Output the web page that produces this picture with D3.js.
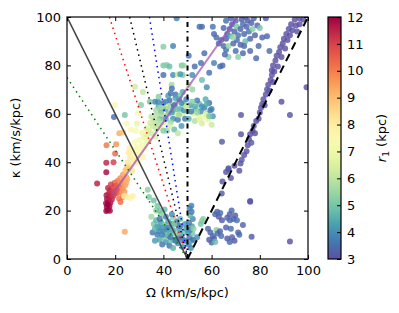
<!DOCTYPE html>
<html><head><meta charset="utf-8">
<script src="https://cdn.jsdelivr.net/npm/d3@7"></script>
<style>body{margin:0;background:#fff} text{font-family:"DejaVu Sans",sans-serif;fill:#000}</style>
</head><body><svg id="c" width="399" height="313"></svg>
<script>
// ---- data ----
const xTicks=[0,20,40,60,80,100];
const yTicks=[0,20,40,60,80,100];
const cbTicks=[3,4,5,6,7,8,9,10,11,12];
// points: [Omega, kappa, r1]
const redCluster=[[16.3,19.8,12],[17.0,20.2,12],[16.5,21.5,11.9],[17.6,21.8,12],[16.2,23,11.8],[17.1,23.6,11.9],[18.0,23.2,11.7],[16.6,24.8,11.8],[17.6,25.3,11.6],[18.6,24.6,11.5],[16.4,26.3,11.7],[17.3,27,11.5],[18.3,26.5,11.4],[19.2,26,11.2],[17.8,28.4,11.3],[18.9,28,11.1],[19.8,27.4,10.9],[20.6,28.6,10.7],[19.3,29.6,10.9],[20.2,30.3,10.6],[17.0,29.3,11.4],[18.2,30.8,11],[16.8,22.5,12],[17.8,19.9,11.9]];
const redIsolated=[[12.5,31.2,11.6],[16.3,35.8,11.9],[16.3,39.8,11.5],[19.3,40,11.1],[20,43.6,10.4],[16.4,47,10.1],[20.4,47.4,9.7],[21.7,52,9.3],[23.2,52.3,8.9],[24,11.3,9.4]];
const orangeCluster=[[19.8,31.5,10.4],[21,32.2,10.1],[22.1,33.4,9.8],[23.2,34.8,9.5],[22.6,31,9.9],[21.5,29.6,10.3],[23.6,32,9.6],[24.6,33.8,9.3],[20.6,27.2,10.5],[22,27.6,10.1],[23.1,29,9.8],[24.1,30.4,9.5],[25,33,9.2],[24.2,36.5,9],[23.1,25.6,9.9],[21.6,25,10.2],[25.1,37.8,8.8],[22.2,23.6,10.3],[23.8,27.8,9.6],[24.6,31.5,9.3],[23.7,26,8.2],[25,25.6,8],[26.4,25.2,7.8],[27.3,26,7.9]];
const yellowCluster=[[24.6,37.5,8.4],[25.2,40,8.2],[26.1,38.6,8.2],[26.2,42,8],[27.1,44,7.8],[27.6,41,8],[28.1,45,7.6],[28.6,39.6,7.9],[29,43,7.8],[29.2,46.2,7.5],[30.5,44.5,7.5],[31.1,47,7.2],[26,46,7.8],[28.1,48.2,7.4],[30.1,49.2,7.2],[31.6,42.2,7.6],[32.1,45.8,7.3],[33.1,48,7],[25.5,44,8],[27,36.5,8.3],[29.8,41,7.7]];
const greenCluster=[[32,50.2,6.8],[33,51.6,6.6],[34,53,6.5],[35,52,6.4],[35.5,55,6.2],[36,57,6],[34.5,56.2,6.3],[33,54,6.5],[37,54,6.1],[38,57,5.9],[37,59.3,5.8],[36.5,50.5,6.5],[34,48.8,6.8],[31.2,52.2,7],[39,60,5.7],[38.5,62.5,5.5],[35,58.8,6],[34,25.6,5.1],[36,24.2,4.9],[37.5,22,5.0],[33.5,28.6,5.3],[38.5,20,4.9]];
const upperLeft=[[19.9,63.6,7.6],[19.5,58.7,3.5],[24,59.5,5],[24.8,56,7.4],[28.2,71.2,6.3],[29,56,6.8],[29.5,60.3,7.3],[30.7,63.6,5.2],[34.4,65,5],[31.5,69,6],[26.5,53.5,7.6],[28.5,53,7.2]];
const midCluster=[[38,63,4.2],[39,61,3.6],[40,64.5,3.5],[41,62,4.5],[42,60,5],[40.5,59,5.8],[43,63,3.8],[44,61.5,4.4],[42.5,65.5,3.4],[45,64,5.2],[45.5,60,6.3],[44,58,4],[43,56.5,5.5],[46,57.5,3.7],[47,62,4.6],[46.5,66,3.5],[48,60,6.5],[48.5,64,5],[47.5,55,4.2],[49,58,3.6],[50,61,5.4],[49.5,66,3.8],[51,63.5,4.3],[40,56.5,6.2],[39,54,6.8],[41.5,53,5.5],[38.5,58,4.6],[37,61.5,5.6],[44.5,53.5,4.8],[46,52,6],[42,67.5,4.2],[45,68,3.6],[48,69,4.4],[43.5,70.5,3.5],[36.5,65,3.8],[38,67,5.2],
[39.5,62.5,5.5],[41,65,4],[42,63,6],[43.5,60.5,4.2],[44.5,63.5,3.6],[45.5,62,4.8],[46.5,59.5,5.5],[47.5,64.5,3.9],[48.5,61.5,4.1],[49.5,63,6.2],[47,67.5,5],[45,66.5,4.3],[43,68.5,3.7],[41,58,4.4],[42.5,55,6.4],[40,53,5.2],[38,55.5,5.9],
[52.5,60,6.6],[53.5,62,5],[54.5,59,6.8],[55.5,61,4],[56.5,58.5,7],[57,62.5,3.8],[58,60,5.5],[58.5,57.5,6.8],[59.5,61.5,3.6],[60.5,59,4.2],[55,64,4.8],[53,57,5.8],[56,56,6.4],[59,64.5,3.5],[54,65.5,3.7],[57.5,66,4.5],[52,65,5.2],[60,55.5,6.2],
[50.5,58,4.6],[51.5,61,3.7],[53,63,4.5],[54,60.5,5.4],[55,57.5,6.6],[56,63,4.1],[57.5,59.5,6.8],[59,59,5],[60,62,3.8],[58,64,4.5]];
const midUpper=[[37.8,65,3.8],[40,80,5],[41.4,80.2,5.2],[42.5,79.5,4.8],[47.6,80,5],[53,79.5,3.5],[55.6,81,3.6],[40,76,3.5],[44,76,4],[46,76.2,6.2],[48,76,5.2],[52,76,4],[43.4,72,5.6],[58,71,4],[50.5,72,6],[56,74,4.8],[59,77,3.6],[61,81,3.8],[52,70,5.4],[48.3,80,5.4],[44,88,3.8],[40,87.7,5.2],[45.5,99.5,3.8],[55,96,3.5],[47,76.3,4.2],[50.5,84,3.6],[57,85,3.5]];
const topCluster=[[63,89,3.4],[64,90.5,3.3],[65,88,3.5],[66,91,3.2],[66.5,93,3.4],[67.5,95,3.3],[68,92,4.5],[68.5,97,3.2],[69.5,94,3.3],[70,98.5,3.4],[70.5,96,5],[71,92.5,3.6],[72,95,3.3],[72.5,99,3.2],[73,97,3.5],[73.5,93,3.4],[74,90,4.8],[74.5,96,3.3],[75,98.5,3.2],[75.5,94,3.6],[76,91,3.4],[76.5,97.5,3.3],[77,95,5.2],[77.5,99.5,3.4],[78,92.5,3.3],[65,95.5,3.4],[66,86.5,3.5],[67,88,5.4],[69,89,3.4],[70,86,3.5],[72,88.5,3.3],[73,85,3.4],[71,83.5,5.3],[67,83.5,5.2],[63.5,79.5,3.5],[64.5,80,3.4],[61,93,3.4],[60.5,96,3.6],[56,96,3.5],[62,91.5,3.5],[79,96.5,3.3],[80,95.5,5],[81,91.5,3.4],[82.5,99.5,3.3],[83,92,3.4],[84,86,3.5],[79.5,88,3.4],[76,86,3.4],[78.5,83,3.4],[68,99.5,3.3],[74,100,3.4],[66,98.5,3.5],[70.5,90.5,3.4],[69,91.5,5.6],[73.5,88,3.4],[65.5,84.5,3.4]];
const ilrBand=[[66,36,3.1],[67,37.5,3.2],[68,33.5,3.1],[69.5,38.5,3],[71.5,36.5,3.1],[72,39.5,3],[72.5,41,3.2],[73.5,43,3],[74.5,44.5,3.1],[75,47,3],[75.5,49.5,3.1],[76,51.5,3],[76.5,48,3.2],[77,53,3],[77.5,55,3.1],[78,52,3],[78.5,57,3],[79.5,58,3.1],[80,60.5,3],[80.5,62.5,3.1],[81,64,3],[81.5,66,3.1],[82,63.5,3],[82.5,68,3],[83,70,3.1],[83.5,72,3],[84,69.5,3.2],[84.5,74,3],[85,76,3.1],[85.5,73,3],[85,78,3],[85.5,80,3.1],[86,77.5,3],[86.5,82,3],[87,84,3.1],[87.5,79.5,3],[88,85.5,3],[88.5,87.5,3.1],[89,83.5,3],[89.5,89,3],[90,91,3.1],[90.5,87,3],[91,93,3],[91.5,90.5,3],[92,95,3.1],[92.5,92.5,3],[93,97,3],[93.5,94.5,3.1],[94.5,99,3],[95,96.5,3],[96.5,99.5,3],[96.5,97,3],[98,99,3],[95.5,94,3.1]];
const rightIsolated=[[72.2,59.5,3.1],[89,65,3],[92.5,59.5,3.1],[99.4,71,3],[64.3,48.5,3.2],[72.2,51.5,3.1],[76,23.7,3.1],[92.5,7.2,3],[64.5,32,3.1],[67,37,3.2]];
const bottomLeft=[[36,14.5,5],[37,16,4.6],[38,13,3.8],[39,15,4.2],[40,11.5,3.6],[40.5,14,5.1],[41.5,12,4],[42,9.5,3.5],[43,11,4.5],[43.5,14.5,3.8],[44.5,8,3.6],[45,10.5,5.2],[46,6.5,3.9],[46.5,12.5,4.3],[47.5,9,3.6],[48,5,4],[48.5,11,5],[49,7.5,3.7],[37.5,10,3.7],[38.5,8,4.4],[39.5,6,3.6],[41,7,4.1],[42.5,5.5,3.5],[44,4.5,4.6],[45.5,15.5,3.7],[47,16.5,4.8],[44,17,5.4],[41,17.5,3.8],[39,18.5,5.3],[35.5,11,3.6],[36.5,7.5,4.2],[43,7.5,4.8],[46,8.5,3.5],[40,9,5],[38,11.5,3.9],[42,13,3.6],[49.5,12.5,4.2],[47,13.5,3.6],[35,17.5,5.5],[37,20,5.2],[40.5,20.5,4.8],[43.5,18.5,4],
[37.5,13.5,4.4],[38.5,16.5,3.6],[40,13,4.1],[41,10,4.8],[42,15.5,4.3],[43,9,3.7],[44,12,4.5],[45,7.5,3.8],[46,14,4],[47,10.5,4.6],[48,8,3.9],[49,14.5,4.1],[44.5,14.5,5.1],[39.5,10,3.9],[36.5,12.5,4.6]];
const corotationStrip=[[50.5,6,3.8],[51.5,7.5,4.5],[50.8,9,3.6],[52,10.5,5],[51,12,3.7],[51.8,13.5,4.2],[50.6,15,3.6],[52.2,16.5,3.9],[51.2,18,4.6],[51.7,19.5,3.7],[50.9,21,3.8],[52.3,8,3.6],[51.4,4.5,4],[52.5,12.5,5.3],[50.3,11,4.1],[51.6,22,3.8],[56,15.7,5.3],[56.5,16.5,5.2],[55.5,14.5,5],[54,9,4]];
const bottomRight=[[61.5,18.5,3.3],[62.3,19.5,3.4],[63,17.5,3.2],[63.6,19,3.5],[66.5,17,3.3],[67.5,18.5,3.2],[68.3,20,3.4],[69,16.5,3.3],[69.8,18,3.2],[70.5,16,3.5],[67.6,16,3.4],[64.3,16,3.2],[58.5,12.5,3.4],[59.5,11,3.3],[60.5,9.5,3.5],[59,8,3.2],[60,6.8,3.4],[61,8.5,3.3],[62,12,5.2],[62.5,10.5,3.4],[63.5,11.5,3.3],[64,9.5,3.5],[61.5,7,4.8],[66.5,8.5,3.2],[67.5,7,3.4],[68.5,9,3.3],[69.5,7.5,3.2],[71,11,3.3],[71.5,10,3.4],[68,12.5,3.5],[66,13,3.3],[64.2,27.1,3.2],[76,24,3.2],[76.6,9.2,3.2],[73,14,3.3]];
// reference lines (endpoints in data units)
const olrLine=[[0,100],[50,0]];
const greenLine=[[0,75],[50,0]];
const redLine=[[17.6,100],[50,0]];
const blackDotLine=[[26,100],[50,0]];
const blueLine=[[34.2,100],[50,0]];
const corotLine=[[50,0],[50,100]];
const ilrLine=[[50,0],[100,100]];
const curveLine=[[18.5,26.2],[70.7,100]];

// ---- drawing ----
const svg=d3.select("#c");
const L=67,R=308,T=17,B=259;
const x=d3.scaleLinear().domain([0,100]).range([L,R]);
const y=d3.scaleLinear().domain([0,100]).range([B,T]);
const col=d3.scaleSequential(t=>d3.interpolateSpectral(1-t)).domain([3,12]);

svg.append("clipPath").attr("id","pc").append("rect").attr("x",L).attr("y",T).attr("width",R-L).attr("height",B-T);
const g=svg.append("g").attr("clip-path","url(#pc)");

const pts=[].concat(bottomLeft,corotationStrip,bottomRight,ilrBand,rightIsolated,topCluster,midUpper,midCluster,upperLeft,greenCluster,yellowCluster,orangeCluster,redIsolated,redCluster);
g.selectAll("circle").data(pts).enter().append("circle")
 .attr("cx",d=>x(d[0])).attr("cy",d=>y(d[1])).attr("r",3)
 .attr("fill",d=>col(d[2])).attr("fill-opacity",0.82);

const line=d3.line().x(d=>x(d[0])).y(d=>y(d[1]));
function drawLine(data,stroke,w,dash,op){
  g.append("path").attr("d",line(data)).attr("fill","none").attr("stroke",stroke)
   .attr("stroke-width",w).attr("stroke-dasharray",dash||null).attr("stroke-opacity",op||1);
}
drawLine(curveLine,"#a04ab0",2,null,0.7);
drawLine(olrLine,"#444",1.5);
drawLine(greenLine,"#008000",1.5,"1.5,4");
drawLine(redLine,"#ff0000",1.5,"1.5,4");
drawLine(blackDotLine,"#000",1.5,"1.5,4");
drawLine(blueLine,"#0000ff",1.5,"1.5,4");
drawLine(corotLine,"#000",2,"5,4,1.5,4");
drawLine(ilrLine,"#000",2,"8,5");

// axes
function styleAxis(sel){sel.select(".domain").remove();sel.selectAll("line").attr("stroke","#000");sel.selectAll("text").attr("font-size",13).attr("font-family","DejaVu Sans");}
svg.append("g").attr("transform",`translate(0,${B})`).call(d3.axisBottom(x).tickValues(xTicks).tickSize(-4).tickPadding(7)).call(styleAxis);
svg.append("g").attr("transform",`translate(${L},0)`).call(d3.axisLeft(y).tickValues(yTicks).tickSize(-4).tickPadding(6)).call(styleAxis);
svg.append("g").attr("transform",`translate(0,${T})`).call(d3.axisTop(x).tickValues(xTicks).tickSize(-4).tickFormat("")).call(styleAxis);
svg.append("g").attr("transform",`translate(${R},0)`).call(d3.axisRight(y).tickValues(yTicks).tickSize(-4).tickFormat("")).call(styleAxis);
svg.append("rect").attr("x",L).attr("y",T).attr("width",R-L).attr("height",B-T).attr("fill","none").attr("stroke","#000").attr("stroke-width",1.2);

svg.append("text").attr("x",(L+R)/2).attr("y",297).attr("text-anchor","middle").attr("font-size",13).text("Ω (km/s/kpc)");
svg.append("text").attr("transform",`translate(20,${(T+B)/2}) rotate(-90)`).attr("text-anchor","middle").attr("font-size",13).text("κ (km/s/kpc)");

// colorbar
const CL=328,CR=341;
const cy=d3.scaleLinear().domain([3,12]).range([B,T]);
const grad=svg.append("defs").append("linearGradient").attr("id","cg").attr("x1",0).attr("y1",1).attr("x2",0).attr("y2",0);
d3.range(0,21).forEach(i=>grad.append("stop").attr("offset",i/20).attr("stop-color",col(3+9*i/20)));
svg.append("rect").attr("x",CL).attr("y",T).attr("width",CR-CL).attr("height",B-T).attr("fill","url(#cg)");
svg.append("g").attr("transform",`translate(${CR},0)`).call(d3.axisRight(cy).tickValues(cbTicks).tickSize(-4).tickPadding(6)).call(styleAxis);
svg.append("rect").attr("x",CL).attr("y",T).attr("width",CR-CL).attr("height",B-T).attr("fill","none").attr("stroke","#000").attr("stroke-width",1.2);
const cl=svg.append("text").attr("transform",`translate(386,${(T+B)/2}) rotate(-90)`).attr("text-anchor","middle").attr("font-size",13);
cl.append("tspan").attr("font-style","italic").text("r");
cl.append("tspan").attr("font-size",9).attr("dy",3).text("1");
cl.append("tspan").attr("dy",-3).text(" (kpc)");
</script></body></html>
